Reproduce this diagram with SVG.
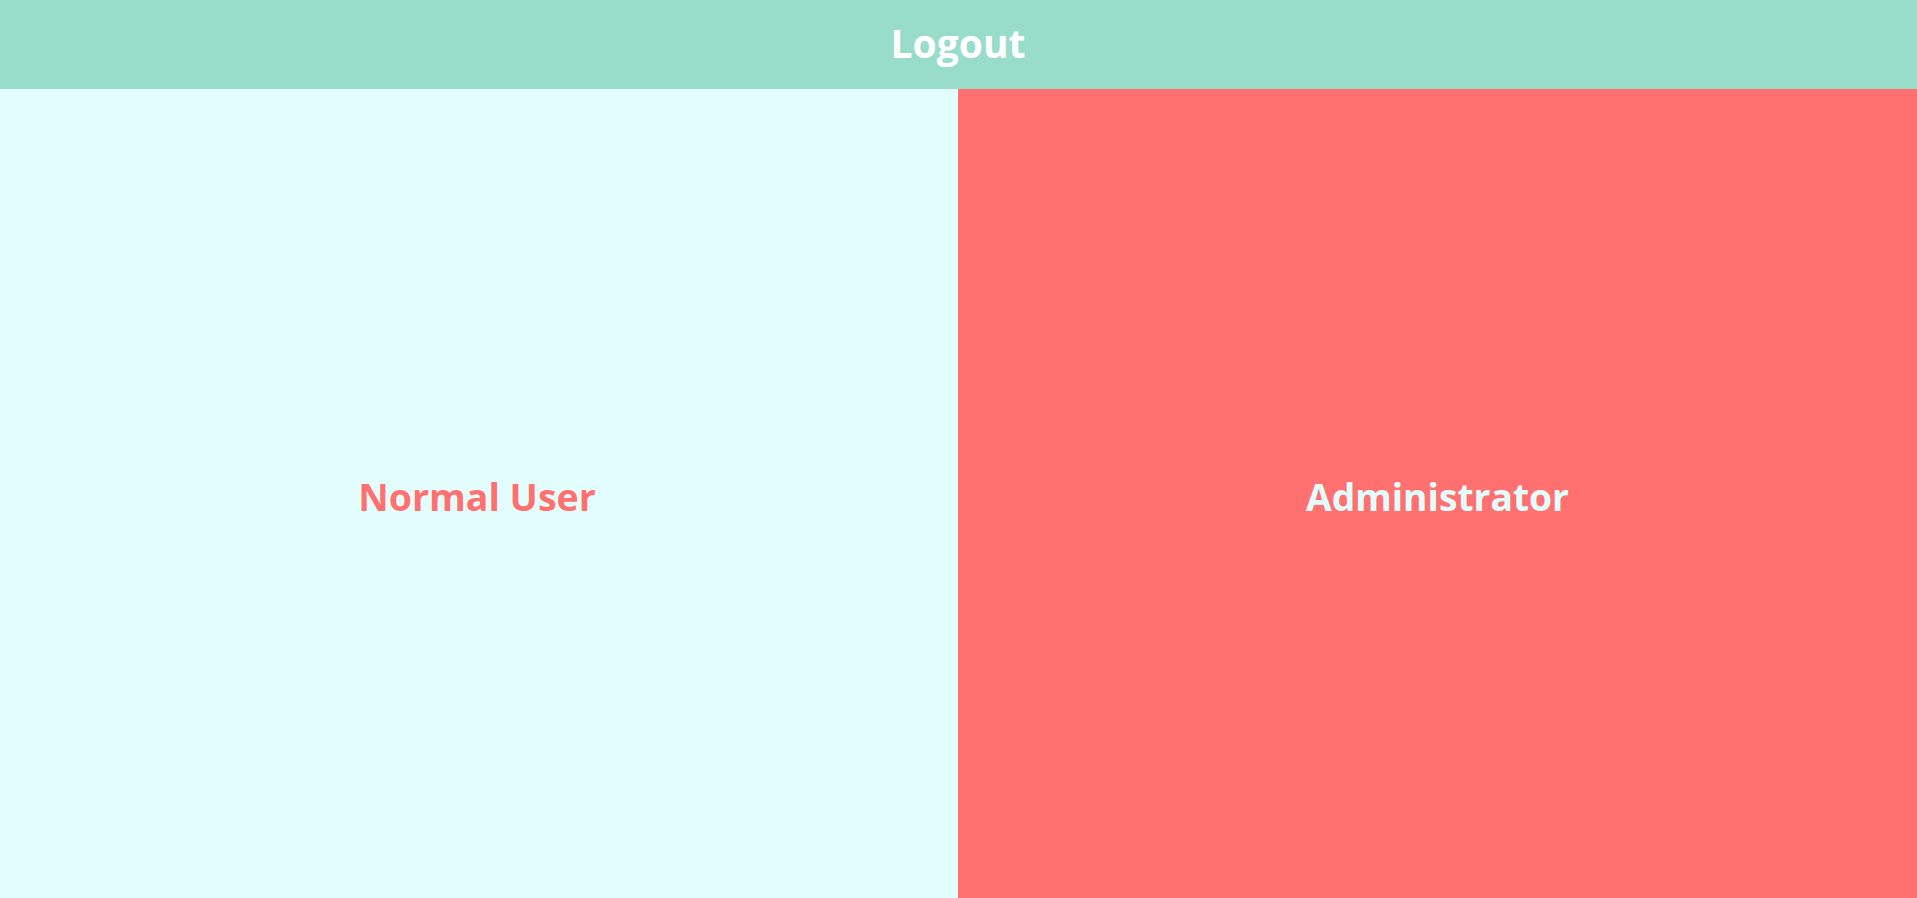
<svg xmlns="http://www.w3.org/2000/svg" width="1917" height="898" viewBox="0 0 1917 898">
<style>
.t{font-family:"Open Sans","Noto Sans","Liberation Sans",sans-serif;font-weight:700;text-anchor:middle}
</style>
<g id="normal-user">
<rect x="0" y="89" width="958" height="809" fill="#E3FDFD"/>
<text class="t" x="477" y="511" font-size="37.5" fill="#FF7171">Normal User</text>
</g>
<g id="administrator">
<rect x="958" y="89" width="959" height="809" fill="#FF7171"/>
<text class="t" x="1437.5" y="511" font-size="37.2" fill="#E3FDFD">Administrator</text>
</g>
<g id="logout">
<rect x="0" y="0" width="1917" height="89" fill="#98DDCA"/>
<text class="t" x="958" y="57.5" font-size="39" fill="#FFFFFF">Logout</text>
</g>
<g id="connectors"/>
</svg>
